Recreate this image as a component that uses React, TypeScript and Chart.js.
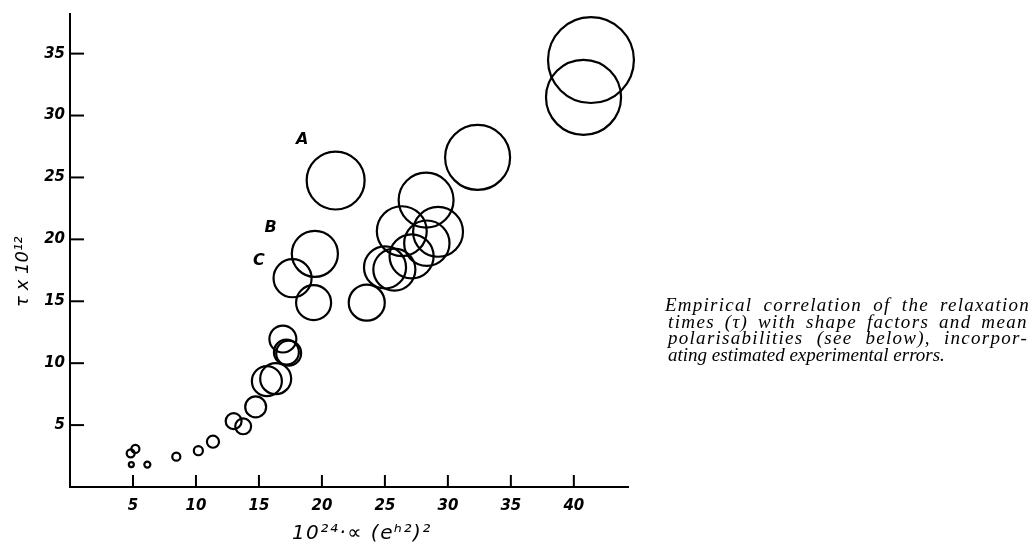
import React, { useEffect, useLayoutEffect, useRef } from 'react';
import { Chart, registerables } from 'chart.js';

Chart.register(...registerables);

// 10^24 * alpha (e h^2)^2  (x)
const polarisability = [
  4.87, 6.14, 4.82, 5.19, 8.44, 10.19, 11.35, 12.99, 13.75, 14.74,
  15.63, 16.33, 16.9, 17.18, 17.36, 17.67, 19.44, 19.34, 21.09, 23.56,
  25.01, 25.75, 27.12, 28.33, 26.34, 29.22, 28.27, 32.36, 40.77, 41.36,
];
// tau x 10^12  (y)
const relaxationTime = [
  1.81, 1.81, 2.72, 3.07, 2.45, 2.93, 3.66, 5.32, 4.9, 6.47,
  8.55, 8.75, 11.95, 10.89, 10.81, 16.86, 18.83, 14.89, 24.75, 14.89,
  17.73, 17.56, 18.63, 19.69, 20.66, 20.61, 23.17, 26.62, 31.47, 34.48,
];
// estimated experimental error (circle radius, in x-axis units)
const errorRadius = [
  0.2, 0.24, 0.32, 0.32, 0.32, 0.36, 0.48, 0.63, 0.63, 0.83,
  1.19, 1.23, 1.07, 0.99, 0.99, 1.51, 1.83, 1.39, 2.3, 1.43,
  1.67, 1.67, 1.75, 1.8, 1.98, 1.98, 2.18, 2.58, 2.98, 3.41,
];

const xTickValues = [5, 10, 15, 20, 25, 30, 35, 40];
const yTickValues = [5, 10, 15, 20, 25, 30, 35];
const xRange = [0, 44.3];
const yRange = [0, 38.2];

const markerLabels = ['A', 'B', 'C'];
const markerX = [18.44, 15.93, 15.0];
const markerY = [28.05, 20.89, 18.26];

const xTitle = '10²⁴·∝ (eʰ²)²';
const yTitle = 'τ x 10¹²';

const captionLines = [
  'Empirical correlation of the relaxation',
  'times (τ) with shape factors and mean',
  'polarisabilities (see below), incorpor-',
  'ating estimated experimental errors.',
];
const captionWidths = [365, 360, 360, 0];

const handFont = '"DejaVu Sans", sans-serif';

const overlayPlugin = {
  id: 'overlay',
  afterDraw(chart: any) {
    const { ctx, chartArea, scales } = chart;
    const x = scales.x;
    const y = scales.y;
    ctx.save();
    ctx.strokeStyle = '#000';
    ctx.fillStyle = '#000';
    ctx.lineWidth = 2;
    // inward tick marks
    for (const v of xTickValues) {
      const px = x.getPixelForValue(v);
      ctx.beginPath();
      ctx.moveTo(px, chartArea.bottom);
      ctx.lineTo(px, chartArea.bottom - 12);
      ctx.stroke();
    }
    for (const v of yTickValues) {
      const py = y.getPixelForValue(v);
      ctx.beginPath();
      ctx.moveTo(chartArea.left, py);
      ctx.lineTo(chartArea.left + 14, py);
      ctx.stroke();
    }
    // A, B, C labels
    ctx.font = `italic bold 16px ${handFont}`;
    ctx.textAlign = 'center';
    ctx.textBaseline = 'middle';
    markerLabels.forEach((t, i) => {
      ctx.fillText(t, x.getPixelForValue(markerX[i]), y.getPixelForValue(markerY[i]));
    });
    // axis titles
    ctx.font = `italic 20px ${handFont}`;
    if ('letterSpacing' in ctx) (ctx as any).letterSpacing = '1.5px';
    ctx.fillText(xTitle, chartArea.left + chartArea.width * 0.523, 534);
    ctx.save();
    if ('letterSpacing' in ctx) (ctx as any).letterSpacing = '0px';
    ctx.font = `italic 18px ${handFont}`;
    ctx.translate(23, chartArea.top + chartArea.height * 0.545);
    ctx.rotate(-Math.PI / 2);
    ctx.fillText(yTitle, 0, 0);
    ctx.restore();
    ctx.restore();
  },
};

export default function App() {
  const canvasRef = useRef<HTMLCanvasElement | null>(null);
  const lineRefs = useRef<(HTMLSpanElement | null)[]>([]);

  useLayoutEffect(() => {
    lineRefs.current.forEach((el, i) => {
      if (!el || !captionWidths[i]) return;
      el.style.letterSpacing = '0px';
      el.style.wordSpacing = '0px';
      const w = el.getBoundingClientRect().width;
      const text = captionLines[i];
      const n = text.length;
      const spaces = text.split(' ').length - 1;
      const extra = captionWidths[i] - w;
      const ls = (extra * 0.7) / n;
      const ws = (extra * 0.3) / Math.max(1, spaces);
      el.style.letterSpacing = `${ls}px`;
      el.style.wordSpacing = `${ws}px`;
    });
  }, []);

  useEffect(() => {
    const canvas = canvasRef.current;
    if (!canvas) return;
    const tickFont = { family: handFont, size: 15, style: 'italic' as const, weight: 'bold' as const };
    const chart = new Chart(canvas, {
      type: 'scatter',
      data: {
        datasets: [
          {
            data: polarisability.map((xv, i) => ({ x: xv, y: relaxationTime[i], err: errorRadius[i] })) as any,
            showLine: false,
            pointStyle: 'circle',
            pointBackgroundColor: 'rgba(0,0,0,0)',
            pointBorderColor: '#000',
            pointBorderWidth: 2.2,
            clip: false as any,
            pointRadius: (ctx: any) => {
              const raw = ctx.raw;
              const s = ctx.chart.scales && ctx.chart.scales.x;
              if (!raw || !s) return 0;
              const r = Math.abs(s.getPixelForValue(raw.err) - s.getPixelForValue(0));
              return Number.isFinite(r) ? r : 0;
            },
          } as any,
        ],
      },
      options: {
        responsive: false,
        animation: false,
        events: [],
        layout: { padding: { top: 12, right: 404, left: 0, bottom: 0 }, autoPadding: false },
        plugins: { legend: { display: false }, tooltip: { enabled: false } },
        scales: {
          x: {
            type: 'linear',
            min: xRange[0],
            max: xRange[1],
            grid: { display: false, drawTicks: false },
            border: { display: true, color: '#000', width: 2 },
            ticks: { color: '#000', font: tickFont, padding: 10, maxRotation: 0, autoSkip: false },
            afterBuildTicks: (s: any) => {
              s.ticks = xTickValues.map((v) => ({ value: v }));
            },
            afterFit: (s: any) => {
              s.height = 59;
            },
          },
          y: {
            type: 'linear',
            min: yRange[0],
            max: yRange[1],
            grid: { display: false, drawTicks: false },
            border: { display: true, color: '#000', width: 2 },
            ticks: { color: '#000', font: tickFont, padding: 5, autoSkip: false },
            afterBuildTicks: (s: any) => {
              s.ticks = yTickValues.map((v) => ({ value: v }));
            },
            afterFit: (s: any) => {
              s.width = 70;
            },
          },
        },
      },
      plugins: [overlayPlugin],
    });
    return () => chart.destroy();
  }, []);

  return (
    <div style={{ position: 'fixed', left: 0, top: 0, width: 1032, height: 546, background: '#fff' }}>
      <canvas ref={canvasRef} width={1032} height={546} style={{ display: 'block' }} />
      <div
        style={{
          position: 'absolute',
          left: 665,
          top: 297,
          width: 367,
          fontFamily: '"Liberation Serif", serif',
          fontStyle: 'italic',
          fontSize: 19,
          lineHeight: '16.7px',
          color: '#000',
          whiteSpace: 'nowrap',
        }}
      >
        {captionLines.map((line, i) => (
          <div key={i} style={{ marginLeft: i === 0 ? 0 : 3, height: 16.7 }}>
            <span
              ref={(el) => {
                lineRefs.current[i] = el;
              }}
              style={{ display: 'inline-block' }}
            >
              {line}
            </span>
          </div>
        ))}
      </div>
    </div>
  );
}
